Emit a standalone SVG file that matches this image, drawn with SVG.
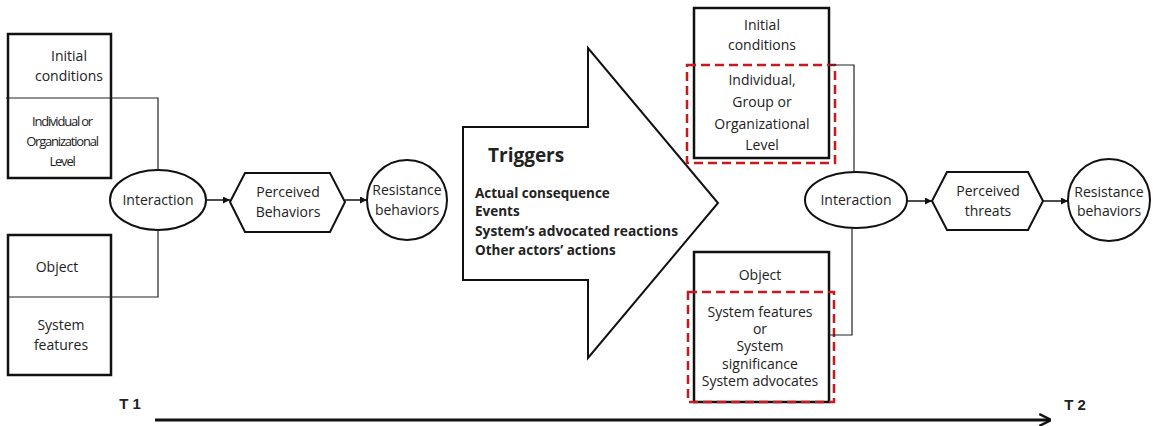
<svg xmlns="http://www.w3.org/2000/svg" width="1164" height="426" viewBox="0 0 1164 426">
<style>
text{font-family:"Open Sans","Liberation Sans",sans-serif;font-size:14px;fill:#222;text-anchor:middle}
.box{fill:#fff;stroke:#111;stroke-width:2.5}
.shape{fill:#fff;stroke:#111;stroke-width:2}
.conn{fill:none;stroke:#222;stroke-width:1.2}
.red{fill:none;stroke:#c8191e;stroke-width:2.5;stroke-dasharray:9,5}
.flow{fill:none;stroke:#111;stroke-width:1.5}
.cond{letter-spacing:-1.2px;font-size:13px}
.trig{font-weight:bold;text-anchor:start;font-size:13.5px}
.time{font-weight:bold;font-size:15px;font-family:"Liberation Sans",sans-serif}
</style>
<defs>
<marker id="ah" viewBox="0 0 10 10" refX="10" refY="5" markerWidth="7" markerHeight="7" markerUnits="userSpaceOnUse" orient="auto"><path d="M0,0 L10,5 L0,10 z" fill="#111"/></marker>
<marker id="ah2" viewBox="0 0 10 10" refX="9" refY="5" markerWidth="12" markerHeight="14" markerUnits="userSpaceOnUse" orient="auto"><path d="M0,0 L10,5 L0,10" fill="none" stroke="#111" stroke-width="2"/></marker>
</defs>
<g id="left-initial">
<rect class="box" x="8" y="34" width="103" height="144"/>
<text x="69" y="61">Initial</text>
<text x="69" y="81">conditions</text>
<text class="cond" x="62" y="126">Individual or</text>
<text class="cond" x="62" y="146">Organizational</text>
<text class="cond" x="62" y="166">Level</text>
</g>
<g id="left-object">
<rect class="box" x="8" y="235" width="103" height="140"/>
<text x="57" y="272">Object</text>
<text x="61" y="330">System</text>
<text x="61" y="350">features</text>
</g>
<g id="interaction-1">
<ellipse class="shape" cx="158" cy="200" rx="48" ry="30"/>
<text x="158" y="205">Interaction</text>
</g>
<g id="perceived-behaviors">
<polygon class="shape" points="230,202 245,173 330,173 345,202 330,232 245,232"/>
<text x="288" y="197">Perceived</text>
<text x="288" y="217">Behaviors</text>
</g>
<g id="resistance-1">
<circle class="shape" cx="407" cy="200" r="40"/>
<text x="407" y="195">Resistance</text>
<text x="407" y="215">behaviors</text>
</g>
<g id="triggers">
<polygon class="shape" points="463,127 588,127 588,48 718,203 588,358 588,280 463,280"/>
<text x="488" y="162" style="font-weight:bold;font-size:19px;text-anchor:start">Triggers</text>
<text class="trig" x="475" y="198">Actual consequence</text>
<text class="trig" x="475" y="216">Events</text>
<text class="trig" x="475" y="236" textLength="203" lengthAdjust="spacingAndGlyphs">System’s advocated reactions</text>
<text class="trig" x="475" y="255">Other actors’ actions</text>
</g>
<g id="right-initial">
<rect class="box" x="694" y="8" width="135" height="150"/>
<rect class="red" x="687" y="65" width="148" height="98"/>
<text x="762" y="30">Initial</text>
<text x="762" y="50">conditions</text>
<text x="762" y="85">Individual,</text>
<text x="762" y="107">Group or</text>
<text x="762" y="129">Organizational</text>
<text x="762" y="150">Level</text>
</g>
<g id="right-object">
<rect class="box" x="694" y="252" width="135" height="150"/>
<rect class="red" x="688" y="292" width="146" height="110"/>
<text x="760" y="280">Object</text>
<text x="760" y="317" font-size="13">System features</text>
<text x="760" y="334" font-size="13">or</text>
<text x="760" y="351" font-size="13">System</text>
<text x="760" y="369" font-size="13">significance</text>
<text x="760" y="386" font-size="13">System advocates</text>
</g>
<g id="interaction-2">
<ellipse class="shape" cx="856" cy="200" rx="51" ry="28"/>
<text x="856" y="205">Interaction</text>
</g>
<g id="perceived-threats">
<polygon class="shape" points="932,201 947,172 1028,172 1043,201 1028,230 947,230"/>
<text x="988" y="196">Perceived</text>
<text x="988" y="216">threats</text>
</g>
<g id="resistance-2">
<circle class="shape" cx="1109" cy="200" r="41"/>
<text x="1109" y="197">Resistance</text>
<text x="1109" y="216">behaviors</text>
</g>
<g id="time">
<text class="time" x="130" y="409">T 1</text>
<text class="time" x="1075" y="410">T 2</text>
</g>
<g id="connectors">
<path class="conn" d="M6,98 H158 V170"/>
<path class="conn" d="M8,297 H158 V230"/>
<path class="conn" d="M829,65 H854 V172"/>
<path class="conn" d="M829,335 H852 V228"/>
<line class="flow" x1="206" y1="200" x2="230" y2="200" marker-end="url(#ah)"/>
<line class="flow" x1="345" y1="200" x2="367" y2="200" marker-end="url(#ah)"/>
<line class="flow" x1="907" y1="201" x2="932" y2="201" marker-end="url(#ah)"/>
<line class="flow" x1="1043" y1="201" x2="1068" y2="201" marker-end="url(#ah)"/>
<line x1="155" y1="420" x2="1050" y2="420" stroke="#111" stroke-width="3" marker-end="url(#ah2)"/>
</g>
</svg>
